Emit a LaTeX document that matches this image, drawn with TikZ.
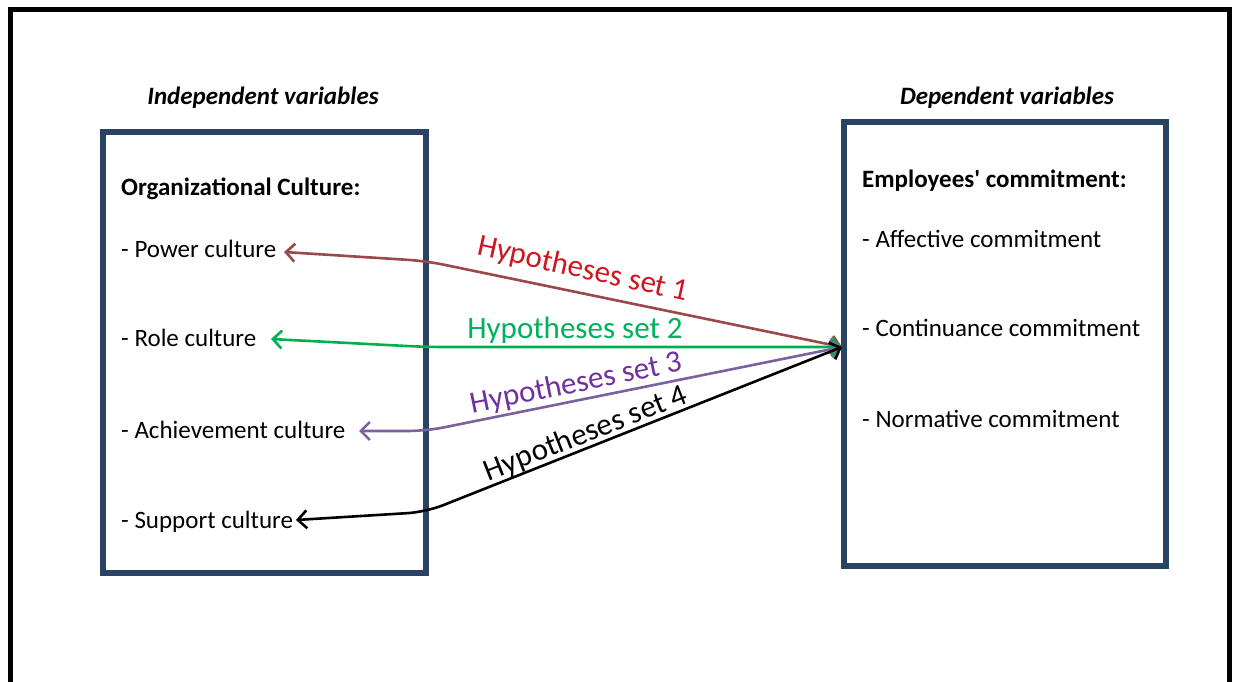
\documentclass[tikz,border=0pt]{standalone}
\usepackage{fontspec}
\setmainfont{Carlito}
\usetikzlibrary{arrows.meta}
\definecolor{boxblue}{RGB}{42,66,100}
\definecolor{lnred}{RGB}{155,72,72}
\definecolor{txred}{RGB}{205,22,30}
\definecolor{lngreen}{RGB}{0,176,80}
\definecolor{txgreen}{RGB}{0,176,90}
\definecolor{lnpurple}{RGB}{125,96,160}
\definecolor{txpurple}{RGB}{112,48,160}
\tikzset{
  varbox/.style={draw=boxblue, line width=6pt},
  item/.style={anchor=base west, inner sep=0pt, font=\fontsize{25}{28}\selectfont},
  head/.style={anchor=base west, inner sep=0pt, font=\fontsize{25}{28}\selectfont\bfseries},
  title/.style={anchor=base, inner sep=0pt, font=\fontsize{25}{28}\selectfont\bfseries\itshape},
  hyp/.style={inner sep=0pt, font=\fontsize{31}{34}\selectfont},
  conn/.style={line width=2.6pt, rounded corners=18pt, {Straight Barb[length=9pt,width=18pt,line width=2.6pt]}-{Straight Barb[length=9pt,width=18pt,line width=2.6pt]}},
}
\begin{document}
\begin{tikzpicture}[x=1pt,y=-1pt]
\useasboundingbox (0,0) rectangle (1235,682);
\fill[white] (0,0) rectangle (1235,682);
% outer frame
\draw[black, line width=4.5pt] (10.5,700) -- (10.5,9.5) -- (1229.5,9.5) -- (1229.5,700);
% boxes
\draw[varbox] (103,132.5) rectangle (425.5,573);
\draw[varbox] (844,122) rectangle (1166,566);
% titles
\node[title] (tind) at (263,105) {Independent variables};
\node[title] (tdep) at (1007,105) {Dependent variables};
% left texts
\node[head] (oc) at (121,196) {Organizational Culture:};
\node[item] (pw) at (121,257) {- Power culture};
\node[item] (rl) at (121,346) {- Role culture};
\node[item] (ac) at (121,438) {- Achievement culture};
\node[item] (sp) at (121,528) {- Support culture};
% right texts
\node[head] (ec) at (862,188) {Employees\textquotesingle{} commitment:};
\node[item] (af) at (862,247) {- Affective commitment};
\node[item] (co) at (862,336) {- Continuance commitment};
\node[item] (no) at (862,427) {- Normative commitment};
% connector points
\coordinate (tgt) at (842,347);
\coordinate (pwe) at (284,252);
\coordinate (rle) at (271,339);
\coordinate (ace) at (359,431);
\coordinate (spe) at (296,520);
\coordinate (b1) at (426,261);
\coordinate (b2) at (426,347);
\coordinate (b3) at (426,431);
\coordinate (b4) at (426,512);
% connectors
\draw[conn, lnred] (pwe) -- (b1) -- (tgt);
\draw[conn, lngreen] (rle) -- (b2) -- (tgt);
\draw[conn, lnpurple] (ace) -- (b3) -- (tgt);
\draw[conn, black] (spe) -- (b4) -- (tgt);
% labels
\node[hyp, txred, rotate=-12.5] (h1) at (583,270) {Hypotheses set 1};
\node[hyp, txgreen] (h2) at (575,330) {Hypotheses set 2};
\node[hyp, txpurple, rotate=11.5] (h3) at (576,384) {Hypotheses set 3};
\node[hyp, black, rotate=21.5] (h4) at (586,434) {Hypotheses set 4};
\end{tikzpicture}
\end{document}
